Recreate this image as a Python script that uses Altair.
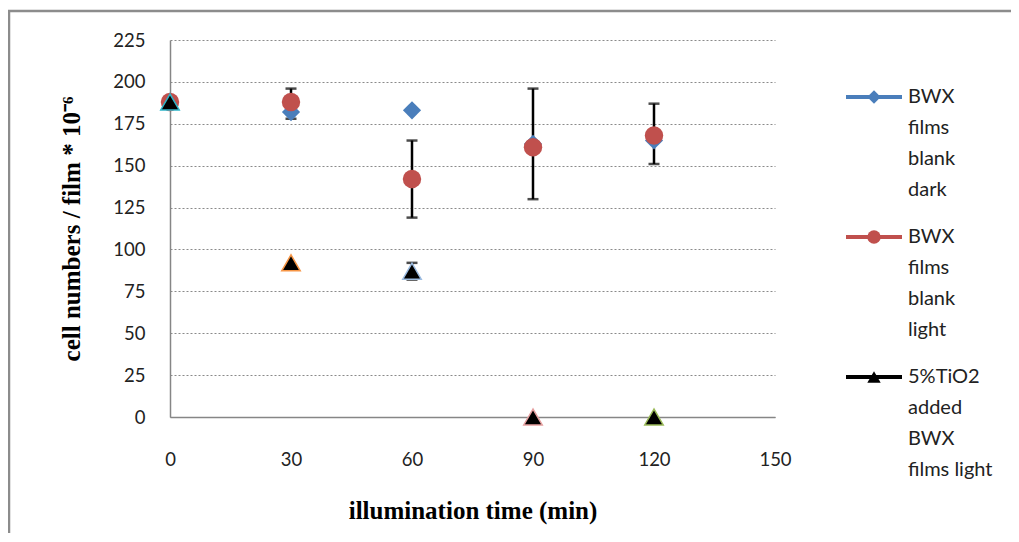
import altair as alt
import pandas as pd

# ---- data ----
times = [0, 30, 60, 90, 120]
series_names = ["BWX films blank dark", "BWX films blank light", "5%TiO2 added BWX films light"]
dark_vals = [188, 182, 183, 163, 165]
light_vals = [188, 188, 142, 161, 168]
tio2_vals = [188, 92, 87, 0, 0]

err_times = [30, 60, 60, 90, 120]
err_center = [187, 142, 87, 163, 169]
err_half = [9, 23, 5, 33, 18]

legend_labels = ["BWX|films|blank|dark", "BWX|films|blank|light", "5%TiO2|added|BWX|films light"]
legend_order = [0, 1, 2]
tri_outline = ["#2fb5c9", "#f79646", "#9bbbe0", "#e6a0a0", "#9bbb59"]

colors = ["#4a7ebb", "#c0504d", "#000000"]
shapes = ["diamond", "circle", "triangle-up"]

rows = []
for name, vals in zip(series_names, [dark_vals, light_vals, tio2_vals]):
    for t, v in zip(times, vals):
        rows.append({"series": name, "time": t, "value": v})
df = pd.DataFrame(rows)

err_df = pd.DataFrame({
    "time": err_times,
    "lo": [c - h for c, h in zip(err_center, err_half)],
    "hi": [c + h for c, h in zip(err_center, err_half)],
})

leg_df = pd.DataFrame({"series": series_names, "label": legend_labels, "pos": legend_order})

FONT = "Lato"
SERIF = "Liberation Serif"

xscale = alt.Scale(domain=[0, 150], nice=False)
yscale = alt.Scale(domain=[0, 225], nice=False)
color_scale = alt.Scale(domain=series_names, range=colors)
shape_scale = alt.Scale(domain=series_names, range=shapes)

x_axis = alt.Axis(values=[0, 30, 60, 90, 120, 150], title="illumination time (min)",
                  grid=False, ticks=False, domainColor="#868686", domainWidth=1.5,
                  labelFont=FONT, labelFontSize=18.5, labelColor="#222", labelFlush=False,
                  labelPadding=33, titleFont=SERIF, titleFontSize=25,
                  titleFontWeight="bold", titleColor="#000", titlePadding=30)
y_axis = alt.Axis(values=[0, 25, 50, 75, 100, 125, 150, 175, 200, 225],
                  title="cell numbers / film * 10\u207b\u2076",
                  grid=True, gridColor="#8a8a8a", gridDash=[2, 2], gridWidth=1,
                  ticks=False, domainColor="#868686", domainWidth=1.5,
                  labelFont=FONT, labelFontSize=18.5, labelColor="#222",
                  labelPadding=25, titleFont=SERIF, titleFontSize=25,
                  titleFontWeight="bold", titleColor="#000", titlePadding=28)

xq = alt.X("time:Q", scale=xscale, axis=x_axis)

def yq(field):
    return alt.Y(field, type="quantitative", scale=yscale, axis=y_axis)

err_rule = alt.Chart(err_df).mark_rule(color="#000", strokeWidth=2.5).encode(
    x=xq, y=yq("lo"), y2="hi:Q")
err_lo = alt.Chart(err_df).mark_tick(color="#000", orient="horizontal", size=11, thickness=2.5).encode(
    x=xq, y=yq("lo"))
err_hi = alt.Chart(err_df).mark_tick(color="#000", orient="horizontal", size=11, thickness=2.5).encode(
    x=xq, y=yq("hi"))

def pts(name, size):
    sub = df[df.series == name]
    return alt.Chart(sub).mark_point(filled=True, opacity=1, size=size).encode(
        x=xq, y=yq("value"),
        color=alt.Color("series:N", scale=color_scale, legend=None),
        shape=alt.Shape("series:N", scale=shape_scale, legend=None),
    )

dark_pts = pts(series_names[0], 330)
light_pts = pts(series_names[1], 340)
tio2_sub = df[df.series == series_names[2]].assign(oc=tri_outline)
tio2_pts = alt.Chart(tio2_sub).mark_point(filled=True, opacity=1, size=340, strokeWidth=1.5,
                                           fill="#000").encode(
    x=xq, y=yq("value"),
    stroke=alt.Stroke("oc:N", scale=None, legend=None),
    shape=alt.Shape("series:N", scale=shape_scale, legend=None),
)

main = alt.layer(err_rule, err_lo, err_hi, dark_pts, light_pts, tio2_pts)

# ---- legend drawn at the right of the plot ----
leg_y = alt.Y("pos:Q", scale=alt.Scale(domain=[0, 2], range=[57, 337]), axis=None)
leg_line = alt.Chart(leg_df).mark_rule(strokeWidth=4).encode(
    x=alt.value(676), x2=alt.value(732), y=leg_y,
    color=alt.Color("series:N", scale=color_scale, legend=None))
leg_pt = alt.Chart(leg_df).mark_point(filled=True, opacity=1, size=180).encode(
    x=alt.value(704), y=leg_y,
    color=alt.Color("series:N", scale=color_scale, legend=None),
    shape=alt.Shape("series:N", scale=shape_scale, legend=None))
leg_txt = alt.Chart(leg_df).mark_text(align="left", baseline="middle", lineBreak="|",
                                      lineHeight=31, font=FONT, fontSize=20, color="#222").encode(
    x=alt.value(738), y=leg_y, text="label:N")
legend = alt.layer(leg_line, leg_pt, leg_txt)

border_df = pd.DataFrame({"k": [0]})
border = alt.Chart(border_df).mark_rect(fill="transparent", stroke="#8c8c8c", strokeWidth=2.5).encode(
    x=alt.value(-161), x2=alt.value(1000), y=alt.value(-29), y2=alt.value(700))

chart = alt.layer(border, main, legend).resolve_scale(y="independent").properties(
    width=605, height=377,
    autosize=alt.AutoSizeParams(type="none"),
    padding={"left": 162, "top": 32, "right": 236, "bottom": 116},
    background="white",
).configure_view(stroke=None)

chart.save("out.html", embed_options={"renderer": "svg", "actions": False})
